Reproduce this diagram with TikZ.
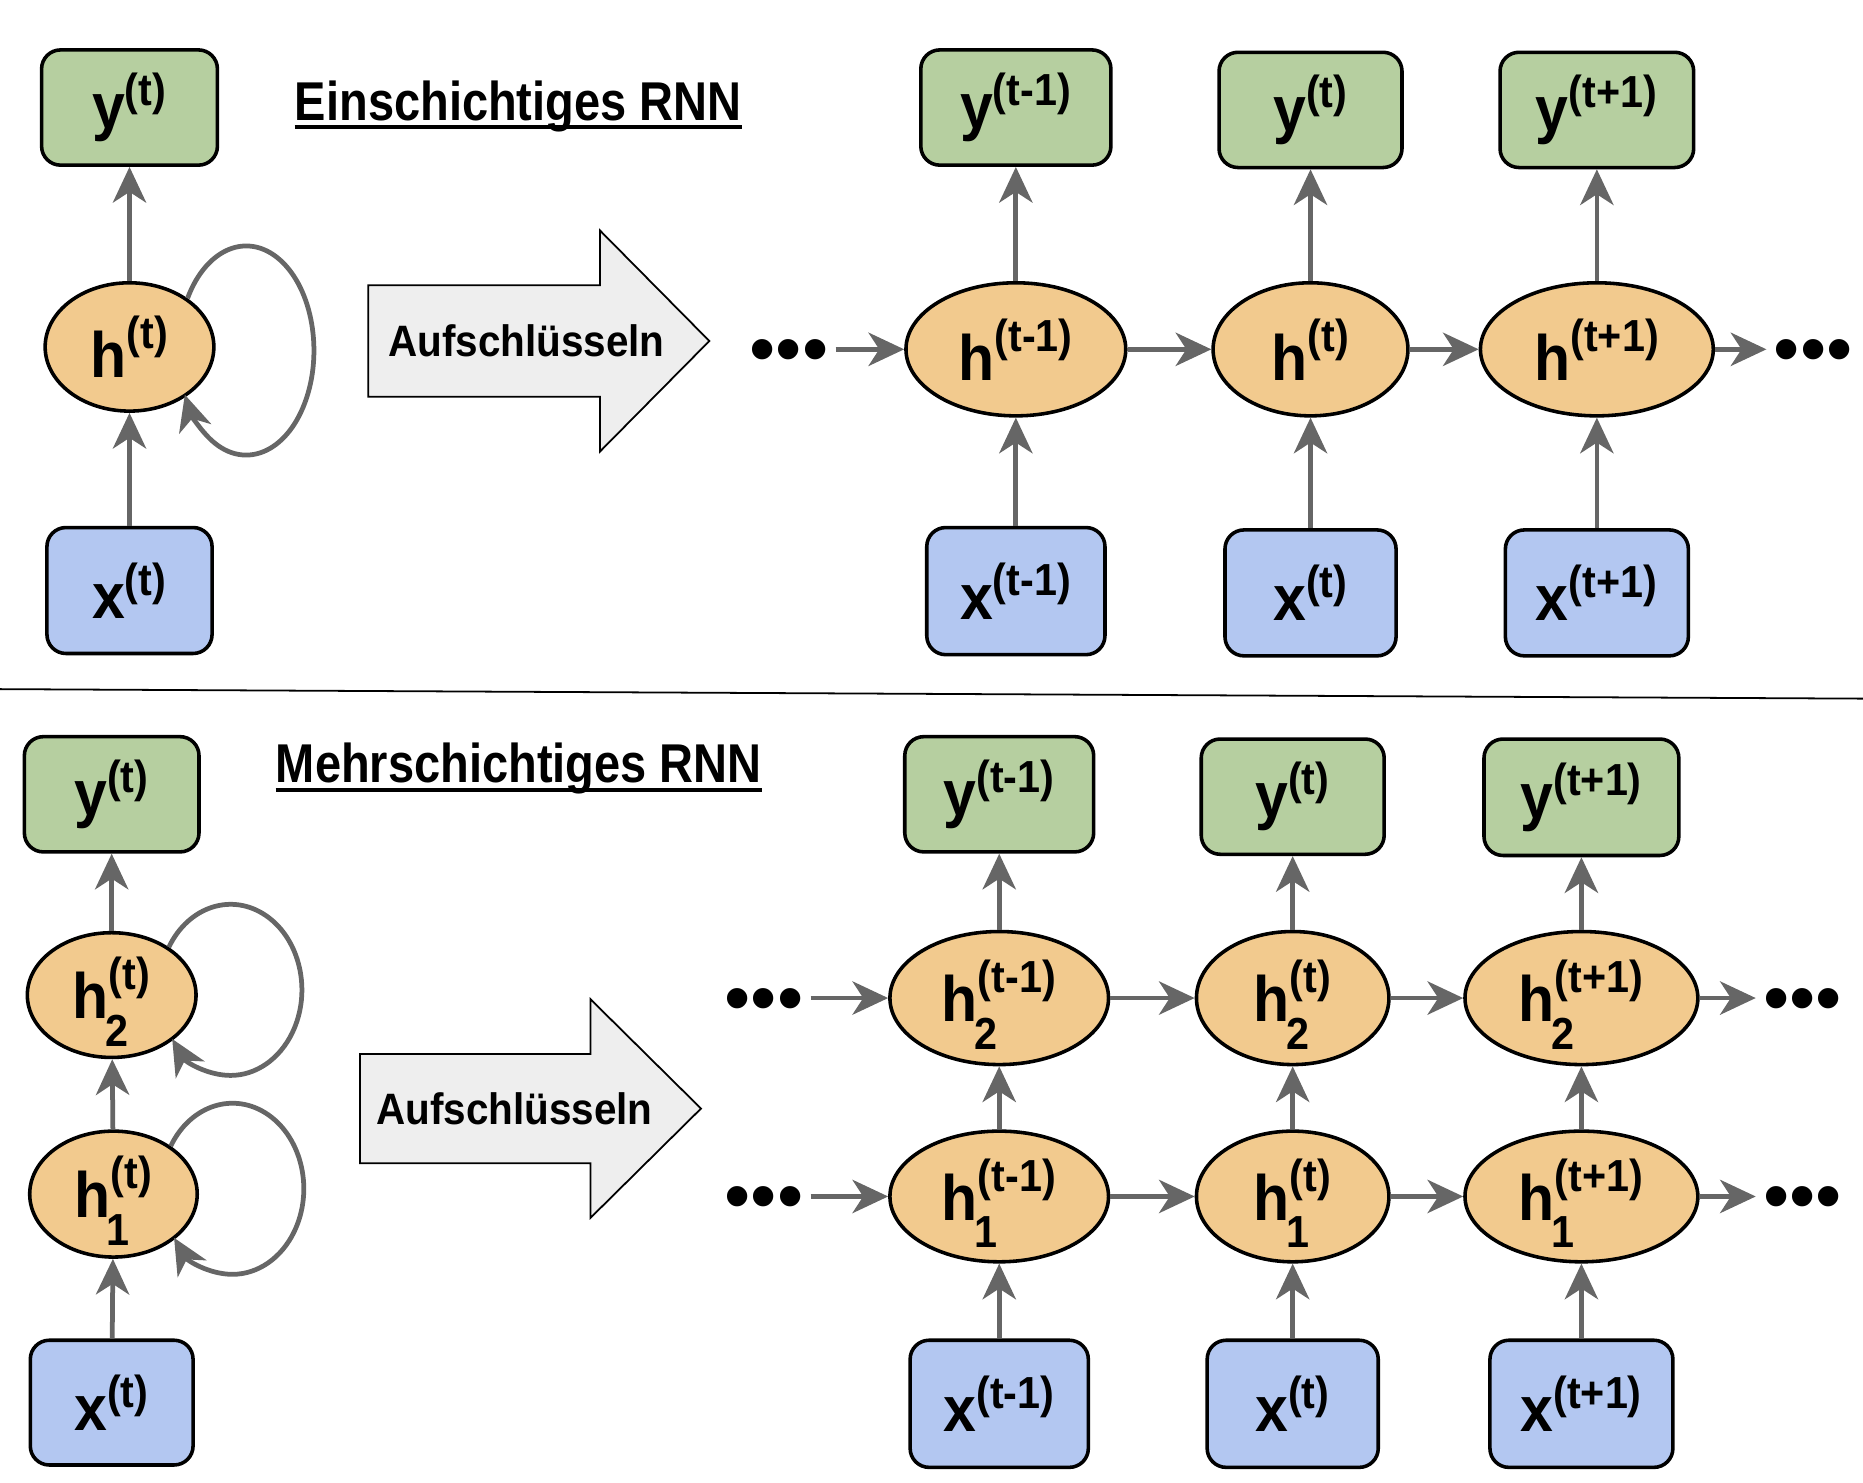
\RequirePackage{fix-cm}
\documentclass[tikz,border=0pt]{standalone}
\usepackage{amsmath}
\usepackage{fontspec}
\setmainfont{Liberation Sans}[FakeStretch=0.92]
\newfontfamily\titlefont{Liberation Sans}[FakeStretch=0.86]
\newfontfamily\dotfont{Liberation Sans}
\usetikzlibrary{arrows.meta,shapes.geometric}

\definecolor{outgreen}{HTML}{B6CFA0}
\definecolor{hidorange}{HTML}{F2CA8E}
\definecolor{inblue}{HTML}{B3C7F1}
\definecolor{conngray}{HTML}{666666}
\definecolor{unrollgray}{HTML}{EEEEEE}

% labels: letter with time index, optionally with layer index
\newcommand{\lab}[2]{$\textbf{#1}^{\textbf{(#2)}}$}
\newcommand{\labl}[3]{\raisebox{-20pt}[0pt][0pt]{$\textbf{#1}^{\textbf{(#2)}}_{\textbf{\kern-3pt\raisebox{-10pt}{#3}}}$}}

\begin{document}
\begin{tikzpicture}[
    x=1pt, y=1pt,
    every node/.style={
        font=\fontsize{54}{60}\selectfont\bfseries,
        inner sep=0pt,
        },
    outbox/.style={
        draw,
        line width=3pt,
        rounded corners=16pt,
        fill=outgreen,
        },
    inbox/.style={
        draw,
        line width=3pt,
        rounded corners=16pt,
        fill=inblue,
        },
    hidnode/.style={
        draw,
        ellipse,
        line width=3pt,
        fill=hidorange,
        },
    conn/.style={
        draw=conngray,
        line width=4pt,
        -{Stealth[length=30pt, width=28pt, inset=9pt]},
        },
    dotsnode/.style={
        font=\dotfont\fontsize{63}{63}\selectfont,
        text height=42pt,
        text depth=0pt,
        inner sep=6pt,
        },
    heading/.style={font=\titlefont\fontsize{46}{50}\selectfont\bfseries, anchor=base west},
    unroll/.style={draw, line width=1.5pt, fill=unrollgray},
    unrolltext/.style={font=\fontsize{37}{40}\selectfont\bfseries},
]

\useasboundingbox (0,0) rectangle (1568,-1248);

% ---------------- single layer ----------------
\node[outbox, minimum width=148pt, minimum height=97pt] (yT) at (109,-90.5) {\lab{y}{t}};
\node[hidnode, minimum width=142pt, minimum height=108pt] (hT) at (109,-292) {\lab{h}{t}};
\node[inbox, minimum width=139pt, minimum height=106pt] (xT) at (109,-497) {\lab{x}{t}};

\draw[conn] (xT) -- (hT);
\draw[conn] (hT) -- (yT);
\draw[conn] (hT.40) arc[start angle=150, end angle=-155, x radius=57, y radius=88];

\node[heading] (titleA) at (248,-101) {Einschichtiges RNN};
\draw[line width=3pt] ([yshift=-6pt]titleA.base west) -- ([yshift=-6pt]titleA.base east);

\draw[unroll] (310,-240) -- (505,-240) -- (505,-194) -- (597,-287)
    -- (505,-380) -- (505,-334) -- (310,-334) -- cycle;
\node[unrolltext] (unrollA) at (443,-287) {Aufschlüsseln};

\node[outbox, minimum width=160pt, minimum height=97pt] (yA1) at (855,-90.5) {\lab{y}{t-1}};
\node[outbox, minimum width=154pt, minimum height=97pt] (yA2) at (1103,-92.5) {\lab{y}{t}};
\node[outbox, minimum width=163pt, minimum height=97pt] (yA3) at (1344,-92.5) {\lab{y}{t+1}};

\node[hidnode, minimum width=185pt, minimum height=112pt] (hA1) at (855,-294) {\lab{h}{t-1}};
\node[hidnode, minimum width=164pt, minimum height=112pt] (hA2) at (1103,-294) {\lab{h}{t}};
\node[hidnode, minimum width=196pt, minimum height=112pt] (hA3) at (1344,-294) {\lab{h}{t+1}};

\node[inbox, minimum width=150pt, minimum height=107pt] (xA1) at (855,-497.5) {\lab{x}{t-1}};
\node[inbox, minimum width=144pt, minimum height=106pt] (xA2) at (1103,-499) {\lab{x}{t}};
\node[inbox, minimum width=154pt, minimum height=106pt] (xA3) at (1344,-499) {\lab{x}{t+1}};

\node[dotsnode] (dA0) at (664,-294) {•••};
\node[dotsnode] (dA4) at (1526,-294) {•••};

\foreach \i in {1,2,3} {
    \draw[conn] (xA\i) -- (hA\i);
    \draw[conn] (hA\i) -- (yA\i);
}
\draw[conn] (dA0) -- (hA1);
\draw[conn] (hA1) -- (hA2);
\draw[conn] (hA2) -- (hA3);
\draw[conn] (hA3) -- (dA4);

\draw[line width=1.5pt] (0,-580) -- (1568,-588);

% ---------------- two layers ----------------
\node[outbox, minimum width=147pt, minimum height=97pt] (yB) at (94,-668.5) {\lab{y}{t}};
\node[hidnode, minimum width=142pt, minimum height=105pt] (h2B) at (94,-837.5) {\labl{h}{t}{2}};
\node[hidnode, minimum width=141pt, minimum height=106pt] (h1B) at (95.5,-1005) {\labl{h}{t}{1}};
\node[inbox, minimum width=137pt, minimum height=105pt] (xB) at (94,-1180.5) {\lab{x}{t}};

\draw[conn] (xB) -- (h1B);
\draw[conn] (h1B) -- (h2B);
\draw[conn] (h2B) -- (yB);
\draw[conn] (h2B.40) arc[start angle=150, end angle=-145, x radius=60, y radius=72];
\draw[conn] (h1B.40) arc[start angle=150, end angle=-145, x radius=60, y radius=72];

\node[heading] (titleB) at (232,-659) {Mehrschichtiges RNN};
\draw[line width=3pt] ([yshift=-6pt]titleB.base west) -- ([yshift=-6pt]titleB.base east);

\draw[unroll] (303,-887) -- (497,-887) -- (497,-841) -- (590,-933)
    -- (497,-1025) -- (497,-979) -- (303,-979) -- cycle;
\node[unrolltext] (unrollB) at (433,-933) {Aufschlüsseln};

\node[outbox, minimum width=159pt, minimum height=97pt] (yB1) at (841,-668.5) {\lab{y}{t-1}};
\node[outbox, minimum width=154pt, minimum height=97pt] (yB2) at (1088,-670.5) {\lab{y}{t}};
\node[outbox, minimum width=164pt, minimum height=98pt] (yB3) at (1331,-671) {\lab{y}{t+1}};

\node[hidnode, minimum width=184pt, minimum height=112pt] (hB21) at (841,-840) {\labl{h}{t-1}{2}};
\node[hidnode, minimum width=162pt, minimum height=112pt] (hB22) at (1088,-840) {\labl{h}{t}{2}};
\node[hidnode, minimum width=196pt, minimum height=112pt] (hB23) at (1331,-840) {\labl{h}{t+1}{2}};

\node[hidnode, minimum width=184pt, minimum height=110pt] (hB11) at (841,-1007) {\labl{h}{t-1}{1}};
\node[hidnode, minimum width=162pt, minimum height=110pt] (hB12) at (1088,-1007) {\labl{h}{t}{1}};
\node[hidnode, minimum width=196pt, minimum height=110pt] (hB13) at (1331,-1007) {\labl{h}{t+1}{1}};

\node[inbox, minimum width=150pt, minimum height=107pt] (xB1) at (841,-1181.5) {\lab{x}{t-1}};
\node[inbox, minimum width=144pt, minimum height=107pt] (xB2) at (1088,-1181.5) {\lab{x}{t}};
\node[inbox, minimum width=154pt, minimum height=107pt] (xB3) at (1331,-1181.5) {\lab{x}{t+1}};

\node[dotsnode] (dB20) at (643,-840) {•••};
\node[dotsnode] (dB24) at (1517,-840) {•••};
\node[dotsnode] (dB10) at (643,-1007) {•••};
\node[dotsnode] (dB14) at (1517,-1007) {•••};

\foreach \i in {1,2,3} {
    \draw[conn] (xB\i) -- (hB1\i);
    \draw[conn] (hB1\i) -- (hB2\i);
    \draw[conn] (hB2\i) -- (yB\i);
}
\foreach \l in {1,2} {
    \draw[conn] (dB\l0) -- (hB\l1);
    \draw[conn] (hB\l1) -- (hB\l2);
    \draw[conn] (hB\l2) -- (hB\l3);
    \draw[conn] (hB\l3) -- (dB\l4);
}

\end{tikzpicture}
\end{document}
